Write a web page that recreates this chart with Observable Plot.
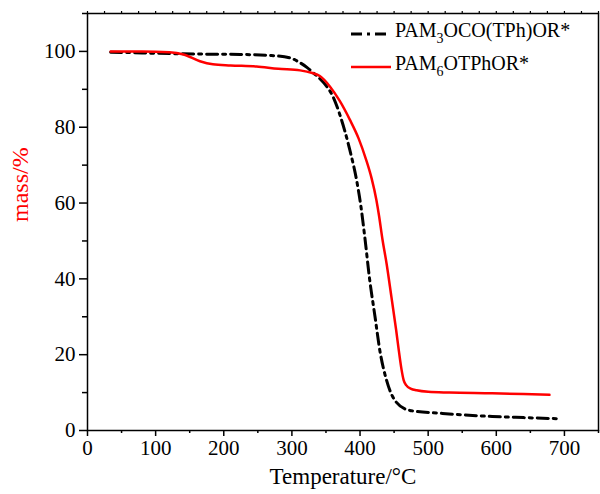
<!DOCTYPE html>
<html>
<head>
<meta charset="utf-8">
<script src="https://cdn.jsdelivr.net/npm/d3@7"></script>
<script src="https://cdn.jsdelivr.net/npm/@observablehq/plot@0.6"></script>
<style>
  html, body { margin: 0; padding: 0; background: #fff; }
  #wrap { position: relative; width: 600px; height: 494px; font-family: "Liberation Serif", "Times New Roman", serif; }
  #wrap svg text { font-family: "Liberation Serif", "Times New Roman", serif !important; }
  #wrap svg g[aria-label="x-axis tick label"], #wrap svg g[aria-label="y-axis tick label"] { font-size: 21px !important; }
  #legend { position: absolute; left: 350px; top: 18px; font-size: 20px; color: #000; }
  #legend .row { position: relative; height: 33px; }
  #legend svg { position: absolute; left: 0; top: 0; }
  #legend .lbl { position: absolute; left: 45px; top: 0; white-space: nowrap; line-height: 24px; }
  #legend sub { font-size: 14px; vertical-align: -6px; line-height: 0; }
</style>
</head>
<body>
<div id="wrap"></div>
<script>
// Series: PAM3OCO(TPh)OR*
const blackT = [34, 60, 102, 165, 224, 270, 297, 312, 322, 331, 341, 351, 360, 370, 385, 395, 401, 407, 414, 422, 429, 439, 453, 473, 521, 594, 640, 692];
const blackM = [99.8, 99.7, 99.5, 99.3, 99.2, 98.9, 98.3, 97.0, 95.8, 94.4, 92.8, 90.8, 88.2, 83.5, 74, 66, 59.5, 51, 40, 30, 21.2, 13.2, 7.5, 5.3, 4.5, 3.7, 3.4, 3.1];
// Series: PAM6OTPhOR*
const redT = [34, 80, 120, 141, 165, 184, 210, 248, 280, 312, 330, 341, 356, 370, 385, 398, 409, 417, 424, 428, 433, 439, 446, 453, 457, 461, 464, 468, 475, 483, 500, 531, 594, 640, 678];
const redM = [100, 100, 99.8, 99.2, 97.4, 96.6, 96.3, 96.0, 95.4, 95.0, 94.3, 93.5, 90.7, 87, 82, 77, 71.4, 66.5, 60.8, 56.5, 50.3, 44, 35.3, 26.5, 21, 16, 13.3, 11.9, 11.0, 10.6, 10.2, 10.0, 9.8, 9.6, 9.4];

const seriesNames = ["PAM3OCO(TPh)OR*", "PAM6OTPhOR*"];
const xMajor = [0, 100, 200, 300, 400, 500, 600, 700];
const xMinor = [50, 150, 250, 350, 450, 550, 650, 750];
const xTop = d3.range(0, 751, 25);
const yMajor = [0, 20, 40, 60, 80, 100];
const yMinor = [10, 30, 50, 70, 90, 110];
const xTitle = "Temperature/°C";
const yTitle = "mass/%";

const black = blackT.map((t, i) => ({T: t, m: blackM[i]}));
const red = redT.map((t, i) => ({T: t, m: redM[i]}));

const font = "'Liberation Serif', 'Times New Roman', serif";
const blank = () => "";
const plot = Plot.plot({
  width: 600,
  height: 494,
  marginLeft: 87,
  marginRight: 2,
  marginTop: 13,
  marginBottom: 64,
  style: {fontFamily: font, fontSize: "21px", color: "#000", background: "#fff"},
  x: {domain: [0, 750]},
  y: {domain: [0, 110]},
  marks: [
    Plot.frame({stroke: "#000", strokeWidth: 1.5}),
    Plot.axisX({ticks: xMinor, tickSize: 3, tickFormat: blank, label: null, strokeWidth: 1.5}),
    Plot.axisX({ticks: xTop, anchor: "top", tickSize: 3, tickFormat: blank, label: null, strokeWidth: 1.2}),
    Plot.axisX({ticks: xMajor, tickSize: 6, tickPadding: 4, fontSize: 21, strokeWidth: 1.5, label: null}),
    Plot.axisY({ticks: yMinor, tickSize: 5, tickFormat: blank, label: null, strokeWidth: 1.5}),
    Plot.axisY({ticks: yMajor, tickSize: 8, tickPadding: 4, fontSize: 21, strokeWidth: 1.5, label: null}),
    Plot.text([xTitle], {frameAnchor: "bottom", text: d => d, dy: 53, fill: "#000", fontSize: 23, fontFamily: font}),
    Plot.text([yTitle], {frameAnchor: "left", text: d => d, rotate: -90, dx: -67, fill: "red", fontSize: 24, fontFamily: font}),
    Plot.line(black, {x: "T", y: "m", stroke: "#000", strokeWidth: 3, strokeDasharray: "11,5,3,5", curve: "monotone-x"}),
    Plot.line(red, {x: "T", y: "m", stroke: "#f00", strokeWidth: 2.5, curve: "monotone-x"})
  ]
});

const wrap = document.getElementById("wrap");
wrap.appendChild(plot);

const legend = document.createElement("div");
legend.id = "legend";
legend.innerHTML = `
  <div class="row"><svg width="42" height="30"><line x1="1" y1="16" x2="41" y2="16" stroke="#000" stroke-width="3" stroke-dasharray="11,5,3,5"/></svg>
    <div class="lbl">PAM<sub>3</sub>OCO(TPh)OR*</div></div>
  <div class="row"><svg width="42" height="30"><line x1="1" y1="16" x2="41" y2="16" stroke="#f00" stroke-width="2.5"/></svg>
    <div class="lbl">PAM<sub>6</sub>OTPhOR*</div></div>`;
wrap.appendChild(legend);
</script>
</body>
</html>
